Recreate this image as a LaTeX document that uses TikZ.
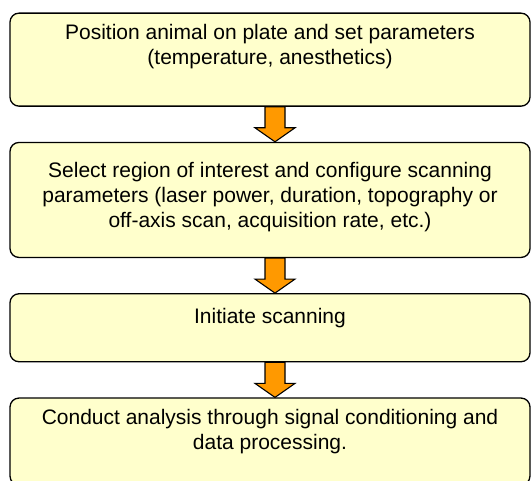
\documentclass[tikz,border=0pt]{standalone}
\usepackage{fontspec}
\setmainfont{Liberation Sans}
\usetikzlibrary{calc}
\usetikzlibrary{positioning}
\definecolor{boxfill}{HTML}{FFFFCC}
\definecolor{arrowfill}{HTML}{FF9900}
\newlength\Textwd
\setlength\Textwd{500pt}
% #1 box height, #2 space above the first line, #3 text
\newcommand\Textbox[3]{%
  \parbox[t][#1][t]{\Textwd}{\vspace*{#2}\centering#3}}

\begin{document}
\begin{tikzpicture}[
font=\fontsize{21}{25}\selectfont,
stepbox/.style={
  rectangle, draw, line width=1.3pt, rounded corners=9pt,
  fill=boxfill, inner xsep=10pt, inner ysep=0pt
},
flowarrow/.style={draw, line width=1.1pt, fill=arrowfill}
]
\useasboundingbox (0,0) rectangle (531pt,-481pt);
\node (place) [stepbox, anchor=north] at (270pt,-12.5pt) {%
  \Textbox{93pt}{11pt}{Position animal on plate and set parameters\\
  (temperature, anesthetics)}};
\node (select) [stepbox, below=35pt of place] {%
  \Textbox{115pt}{20pt}{Select region of interest and configure scanning\\
  parameters (laser power, duration, topography or\\
  off-axis scan, acquisition rate, etc.)}};
\node (scan) [stepbox, below=35pt of select] {%
  \Textbox{68pt}{15pt}{Initiate scanning}};
\node (analyse) [stepbox, below=35pt of scan] {%
  \Textbox{87pt}{11pt}{Conduct analysis through signal conditioning and\\
  data processing.}};

% block arrows between the steps
\foreach \from/\to in {place/select, select/scan, scan/analyse}
  \draw[flowarrow] let \p1 = ([xshift=5pt]\from.south),
                       \p2 = ([xshift=5pt]\to.north) in
    (\x1-10pt,\y1) -- (\x1-10pt,\y2+14pt) -- (\x1-20pt,\y2+14pt) -- (\p2)
    -- (\x1+20pt,\y2+14pt) -- (\x1+10pt,\y2+14pt) -- (\x1+10pt,\y1) -- cycle;
\end{tikzpicture}
\end{document}
